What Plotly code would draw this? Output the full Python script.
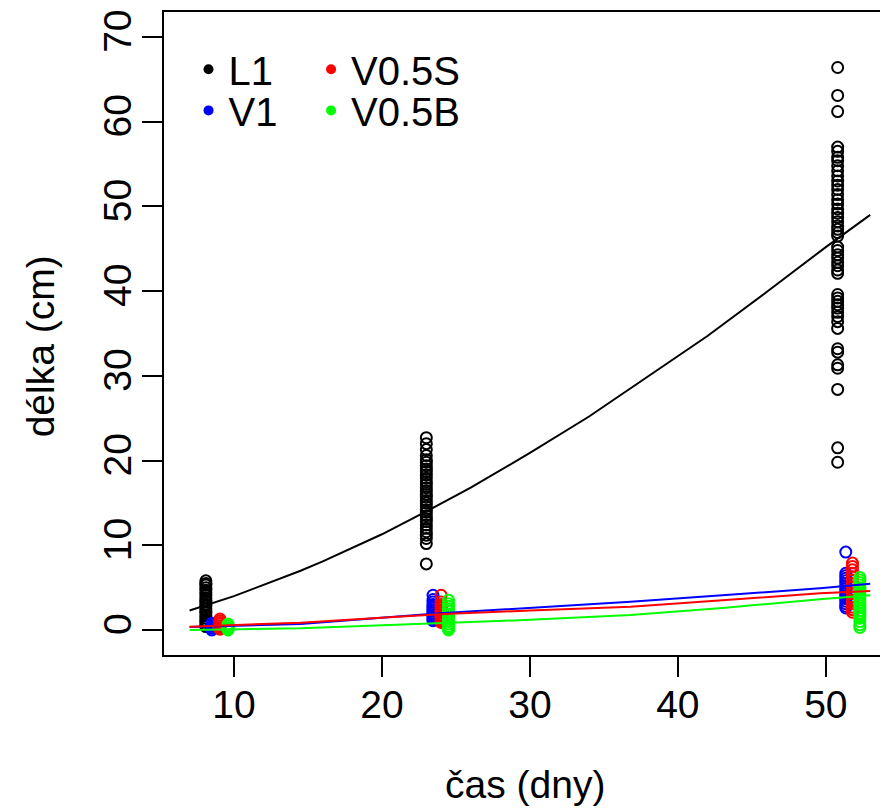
import plotly.graph_objects as go

# ---------------- data ----------------
series_names = ["L1", "V1", "V0.5S", "V0.5B"]
series_colors = ["#000000", "#0000FF", "#FF0000", "#00FF00"]

# x positions of the point columns (days, with the small offsets seen in the picture)
L1_days = [8.1, 23.0, 50.8]
V1_days = [8.5, 23.45, 51.35]
V05S_days = [9.05, 24.0, 51.8]
V05B_days = [9.6, 24.5, 52.3]

L1_d1 = [5.8, 5.5, 5.3, 5.0, 4.7, 4.4, 4.1, 3.8, 3.5, 3.3, 3.0, 2.8, 2.5, 2.2, 2.0,
         1.7, 1.4, 1.1, 0.9, 0.6, 0.4]
L1_d2 = [22.7, 22.0, 21.3, 20.6, 20.1, 19.8, 19.4, 19.0, 18.7, 18.3, 17.9, 17.5, 17.2,
         16.8, 16.4, 16.0, 15.7, 15.3, 15.0, 14.6, 14.2, 13.9, 13.5, 13.1, 12.8, 12.4,
         12.0, 11.6, 11.2, 10.8, 10.2, 7.8]
L1_d3 = [66.4, 63.1, 61.2, 57.0, 56.5, 55.8, 55.4, 54.8, 54.2, 53.6, 53.0, 52.5, 52.0,
         51.4, 50.8, 50.3, 49.7, 49.2, 48.7, 48.2, 47.7, 47.3, 46.9, 46.5, 45.2, 44.8,
         44.3, 43.9, 43.4, 43.0, 42.5, 42.1, 39.6, 39.2, 38.8, 38.4, 38.0, 37.5, 37.0,
         36.4, 35.6, 33.2, 32.8, 31.3, 30.9, 28.4, 21.5, 19.8]

V1_d1 = [0.8, 0.6, 0.4, 0.2, 0.0]
V1_d2 = [4.1, 3.6, 3.3, 3.0, 2.8, 2.6, 2.4, 2.2, 2.0, 1.8, 1.6, 1.4, 1.2, 1.1]
V1_d3 = [9.2, 6.7, 6.4, 6.1, 5.8, 5.5, 5.2, 4.9, 4.6, 4.3, 4.0, 3.7, 3.4, 3.1, 2.8, 2.6]

V05S_d1 = [1.3, 1.1, 0.9, 0.7, 0.5, 0.3, 0.1]
V05S_d2 = [4.1, 3.3, 3.0, 2.8, 2.6, 2.4, 2.2, 2.0, 1.8, 1.6, 1.4, 1.2, 1.0, 0.9]
V05S_d3 = [7.9, 7.5, 7.1, 6.7, 6.3, 5.9, 5.5, 5.1, 4.7, 4.3, 3.9, 3.5, 3.1, 2.7, 2.4, 2.1]

V05B_d1 = [0.7, 0.5, 0.3, 0.1, 0.0]
V05B_d2 = [3.5, 3.1, 2.8, 2.5, 2.2, 1.9, 1.6, 1.3, 1.0, 0.7, 0.4, 0.2, 0.0]
V05B_d3 = [6.2, 5.9, 5.6, 5.3, 5.0, 4.7, 4.4, 4.1, 3.8, 3.5, 3.2, 2.9, 2.6, 2.3, 2.0,
           1.7, 1.4, 1.0, 0.6, 0.3]

# fitted curves
L1_fit_x = [7, 10, 14.5, 16, 20, 23, 26, 30, 34, 38, 42, 46, 50, 53]
L1_fit_y = [2.3, 4.0, 7.0, 8.1, 11.3, 14.0, 16.8, 20.9, 25.2, 29.9, 34.7, 39.9, 45.2, 49.0]

V1_fit_x = [7, 14.5, 23.9, 30, 36.8, 43, 49.6, 53]
V1_fit_y = [0.35, 0.7, 1.97, 2.6, 3.35, 4.1, 4.92, 5.45]

V05S_fit_x = [7, 14.5, 20.5, 23.9, 30, 36.8, 43, 49.6, 53]
V05S_fit_y = [0.39, 0.87, 1.5, 1.85, 2.3, 2.75, 3.5, 4.33, 4.6]

V05B_fit_x = [7, 14.5, 20.5, 23.9, 30, 36.8, 43, 49.6, 53]
V05B_fit_y = [0.0, 0.2, 0.6, 0.79, 1.2, 1.77, 2.6, 3.62, 4.1]

x_tick_vals = [10, 20, 30, 40, 50]
y_tick_vals = [0, 10, 20, 30, 40, 50, 60, 70]
x_title = "čas (dny)"
y_title = "délka (cm)"

# ---------------- figure ----------------
FONT = "Liberation Sans, Arial, Helvetica, sans-serif"
FS = 39
FS_LEG = 40
fig = go.Figure()

groups = [
    (L1_days, [L1_d1, L1_d2, L1_d3], L1_fit_x, L1_fit_y),
    (V1_days, [V1_d1, V1_d2, V1_d3], V1_fit_x, V1_fit_y),
    (V05S_days, [V05S_d1, V05S_d2, V05S_d3], V05S_fit_x, V05S_fit_y),
    (V05B_days, [V05B_d1, V05B_d2, V05B_d3], V05B_fit_x, V05B_fit_y),
]

for (days, vals, fx, fy), name, col in zip(groups, series_names, series_colors):
    xs, ys = [], []
    for d, v in zip(days, vals):
        xs += [d] * len(v)
        ys += v
    fig.add_trace(go.Scatter(
        x=xs, y=ys, mode="markers", showlegend=False,
        marker=dict(symbol="circle-open", size=11, color=col, line=dict(width=2, color=col)),
        hoverinfo="skip"))

for (days, vals, fx, fy), name, col in zip(groups, series_names, series_colors):
    fig.add_trace(go.Scatter(
        x=fx, y=fy, mode="lines", showlegend=False,
        line=dict(color=col, width=2), hoverinfo="skip"))

# legend entries (filled dots), placed like the reference (two columns)
legend_ids = ["legend", "legend2", "legend3", "legend4"]
for name, col, lid in zip(series_names, series_colors, legend_ids):
    fig.add_trace(go.Scatter(
        x=[None], y=[None], mode="markers", name=name, legend=lid,
        marker=dict(symbol="circle", size=10, color=col)))

legend_common = dict(
    font=dict(family=FONT, size=FS_LEG, color="#000000"),
    bgcolor="rgba(0,0,0,0)", borderwidth=0, tracegroupgap=0,
    itemwidth=30, xanchor="left", yanchor="middle",
)
axis_common = dict(
    showgrid=False, zeroline=False, showline=True, linecolor="#000000", linewidth=1.5,
    mirror=True, ticks="outside", ticklen=20, tickwidth=1.5, tickcolor="#000000",
    tickfont=dict(family=FONT, size=FS, color="#000000"),
)

# page has an 8px body margin, so the plot area is shifted by 8px
fig.update_layout(
    width=888, height=810,
    margin=dict(l=156, r=11, t=4, b=163, autoexpand=False),
    paper_bgcolor="#FFFFFF", plot_bgcolor="#FFFFFF",
    font=dict(family=FONT, size=FS, color="#000000"),
    xaxis=dict(range=[5.27, 54.0], tickmode="array", tickvals=x_tick_vals,
               ticklabelstandoff=-6, **axis_common),
    yaxis=dict(range=[-2.95, 72.95], tickmode="array", tickvals=y_tick_vals,
               tickangle=-90, ticklabelstandoff=-4, **axis_common),
    legend=dict(x=0.034, y=0.911, **legend_common),
    legend2=dict(x=0.034, y=0.847, **legend_common),
    legend3=dict(x=0.204, y=0.911, **legend_common),
    legend4=dict(x=0.204, y=0.847, **legend_common),
    annotations=[
        dict(text=x_title, xref="paper", yref="paper", x=0.5, y=-0.202,
             xanchor="center", yanchor="middle", showarrow=False,
             font=dict(family=FONT, size=FS, color="#000000")),
        dict(text=y_title, xref="paper", yref="paper", x=-0.172, y=0.48,
             xanchor="center", yanchor="middle", textangle=-90, showarrow=False,
             font=dict(family=FONT, size=FS, color="#000000")),
    ],
)

fig.write_html("out.html")
